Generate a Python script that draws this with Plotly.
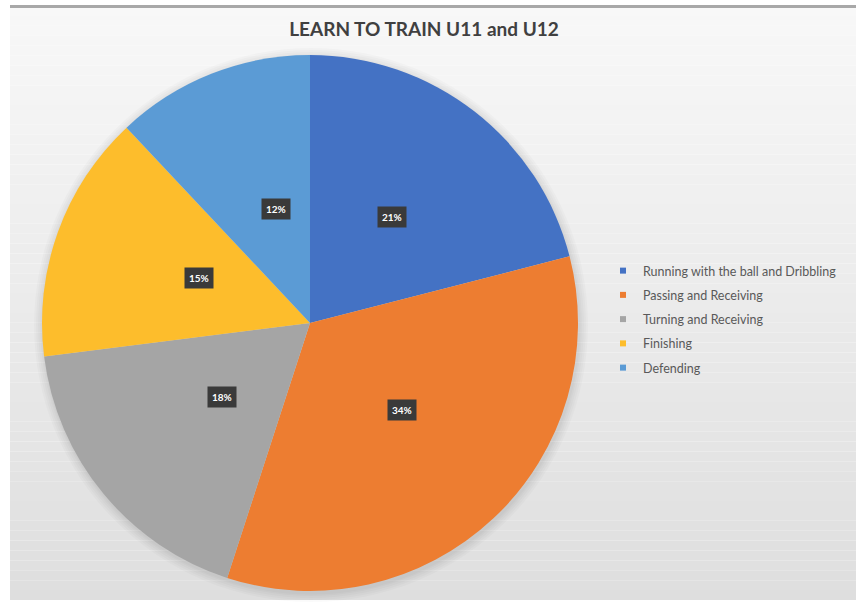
import math
import plotly.graph_objects as go

# ---- data ----
title = "LEARN TO TRAIN U11 and U12"
categories = ["Running with the ball and Dribbling", "Passing and Receiving",
              "Turning and Receiving", "Finishing", "Defending"]
values = [21, 34, 18, 15, 12]
colors = ["#4472C4", "#ED7D31", "#A5A5A5", "#FDBD2C", "#5B9BD5"]

W, H = 856, 604
CX, CY, R = 310, 323, 268  # pie centre / radius in pixels

fig = go.Figure()

# background frame with vertical gradient (stepped)
fig.add_shape(type="rect", xref="paper", yref="paper", x0=0, x1=1, y0=0, y1=1,
              fillcolor="white", line_width=0, layer="below")
top_px, bot_px, left_px = 6, 600, 10
n = 60
c0, c1 = 248, 222
for i in range(n):
    y_a = top_px + (bot_px - top_px) * i / n
    y_b = top_px + (bot_px - top_px) * (i + 1) / n
    g = int(round(c0 + (c1 - c0) * (i + 0.5) / n))
    fig.add_shape(type="rect", xref="paper", yref="paper",
                  x0=left_px / W, x1=1, y0=1 - y_b / H, y1=1 - y_a / H,
                  fillcolor=f"rgb({g},{g},{g})", line_width=0, layer="below")
fig.add_shape(type="rect", xref="paper", yref="paper",
              x0=left_px / W, x1=1, y0=1 - 8 / H, y1=1 - 5 / H,
              fillcolor="#a8a8a8", line_width=0, layer="below")

# very soft shadow around pie
for dr in [9, 7, 5, 3, 1.5]:
    rr = R + dr
    fig.add_shape(type="circle", xref="paper", yref="paper",
                  x0=(CX - rr + 1) / W, x1=(CX + rr + 1) / W,
                  y0=1 - (CY + rr + 2) / H, y1=1 - (CY - rr + 2) / H,
                  fillcolor="rgba(0,0,0,0.018)", line_width=0, layer="below")

fig.add_trace(go.Pie(
    labels=categories, values=values, sort=False, direction="clockwise",
    rotation=0, marker=dict(colors=colors, line=dict(width=0)),
    textinfo="none", hoverinfo="label+percent", showlegend=False,
    domain=dict(x=[(CX - R) / W, (CX + R) / W], y=[1 - (CY + R) / H, 1 - (CY - R) / H]),
))

# legend entries
for cat, col in zip(categories, colors):
    fig.add_trace(go.Scatter(x=[None], y=[None], mode="markers", name=cat,
                             legendgroup=cat,
                             marker=dict(symbol="square", size=6, color=col)))

# percentage labels with dark boxes
total = sum(values)
cum = 0
for v in values:
    mid = (cum + v / 2) / total * 2 * math.pi
    cum += v
    px = CX + 0.5 * R * math.sin(mid)
    py = CY - 0.5 * R * math.cos(mid)
    fig.add_annotation(x=px / W, y=1 - py / H, xref="paper", yref="paper",
                       text=f"<b>{round(v / total * 100)}%</b>", showarrow=False,
                       font=dict(family="Lato", size=10, color="white"),
                       bgcolor="#3a3a3a", borderpad=4)

fig.update_layout(
    width=W, height=H, margin=dict(l=0, r=0, t=0, b=0),
    paper_bgcolor="white", plot_bgcolor="rgba(0,0,0,0)",
    title=dict(text=f"<b>{title}</b>", x=424 / W, xanchor="center",
               y=1 - 29 / H, yanchor="middle", yref="container",
               font=dict(family="Lato", size=19, color="#404040")),
    xaxis=dict(visible=False), yaxis=dict(visible=False),
    legend=dict(x=603 / W, y=1 - 256 / H, xanchor="left", yanchor="top",
                font=dict(family="Lato", size=12.5, color="#595959"),
                bgcolor="rgba(0,0,0,0)", tracegroupgap=5, itemwidth=30),
    showlegend=True,
)

fig.write_html("out.html")
